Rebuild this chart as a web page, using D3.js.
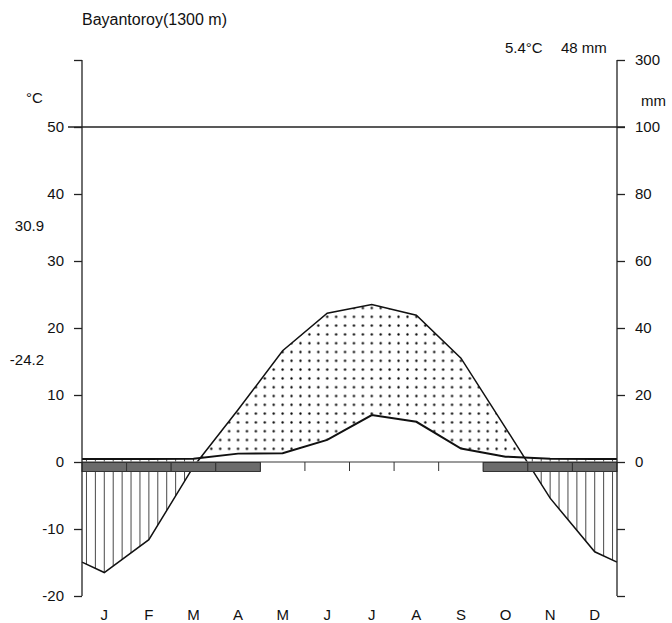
<!DOCTYPE html>
<html>
<head>
<meta charset="utf-8">
<script src="https://cdn.jsdelivr.net/npm/d3@7"></script>
<style>
  body { margin: 0; background: #fff; }
  text { font-family: "Liberation Sans", Arial, sans-serif; fill: #111; }
</style>
</head>
<body>
<svg id="chart" width="672" height="623"></svg>
<script>
// station data
var station = "Bayantoroy(1300 m)"
var meanTemp = "5.4°C"
var sumPrec = "48 mm"
var months = ["J", "F", "M", "A", "M", "J", "J", "A", "S", "O", "N", "D"]
var temp = [-16.5, -11.6, -0.7, 7.8, 16.6, 22.2, 23.5, 21.9, 15.5, 5.1, -5.4, -13.4]
var prec = [0.9, 0.9, 1.0, 2.5, 2.6, 6.6, 14, 12, 4, 1.6, 1.0, 0.9]
var frost = [1, 1, 1, 1, 0, 0, 0, 0, 0, 1, 1, 1]
var tempTicks = [-20, -10, 0, 10, 20, 30, 40, 50]
var precTicks = [0, 20, 40, 60, 80, 100, 300]
var absMax = "30.9"
var absMin = "-24.2"

var svg = d3.select("#chart")
var left = 82, right = 617

var x = d3.scaleLinear().domain([0, 12]).range([left, right])
var yT = d3.scaleLinear().domain([-20, 60]).range([596, 60])
// precipitation: 2 mm per degree up to 100 mm, compressed above
var yP = d3.scaleLinear().domain([0, 100, 300]).range([yT(0), yT(50), yT(60)])

// points at month centres plus the wrapped values at both edges
function withEdges(arr) {
    var edge = (arr[0] + arr[11]) / 2
    var pts = [[0, edge]]
    arr.forEach(function (v, i) { pts.push([i + 0.5, v]) })
    pts.push([12, edge])
    return pts
}
var tPts = withEdges(temp)
var pPts = withEdges(prec)

var defs = svg.append("defs")
var area = function (y1, y0) {
    return d3.area().x(d => x(d[0])).y1(y1).y0(y0)
}
defs.append("clipPath").attr("id", "belowT").append("path")
    .attr("d", area(d => yT(d[1]), 640)(tPts))
defs.append("clipPath").attr("id", "aboveT").append("path")
    .attr("d", area(d => yT(d[1]), 0)(tPts))
defs.append("clipPath").attr("id", "belowP").append("path")
    .attr("d", area(d => yP(d[1]), 640)(pPts))
defs.append("clipPath").attr("id", "aboveP").append("path")
    .attr("d", area(d => yP(d[1]), 0)(pPts))

var step = (right - left) / 60
var pat = defs.append("pattern").attr("id", "dots")
    .attr("patternUnits", "userSpaceOnUse")
    .attr("x", left).attr("y", yT(0))
    .attr("width", step).attr("height", 8.8)
pat.append("circle").attr("cx", step / 2).attr("cy", 4.4).attr("r", 1.15).attr("fill", "#000")

// dry period: dots between temperature and precipitation
svg.append("g").attr("clip-path", "url(#belowT)")
    .append("g").attr("clip-path", "url(#aboveP)")
    .append("rect")
    .attr("x", left).attr("y", yT(60))
    .attr("width", right - left).attr("height", yT(-20) - yT(60))
    .attr("fill", "url(#dots)")

// humid period: vertical lines
svg.append("g").attr("clip-path", "url(#belowP)")
    .append("g").attr("clip-path", "url(#aboveT)")
    .selectAll("line")
    .data(d3.range(0.1, 12, 0.2))
    .enter().append("line")
    .attr("x1", d => x(d)).attr("x2", d => x(d))
    .attr("y1", yT(60)).attr("y2", yT(-20))
    .attr("stroke", "#333").attr("stroke-width", 0.9)

// curves
svg.append("path").datum(tPts)
    .attr("d", d3.line().x(d => x(d[0])).y(d => yT(d[1])))
    .attr("fill", "none").attr("stroke", "#111").attr("stroke-width", 1.5)
svg.append("path").datum(pPts)
    .attr("d", d3.line().x(d => x(d[0])).y(d => yP(d[1])))
    .attr("fill", "none").attr("stroke", "#111").attr("stroke-width", 2)

// zero line and 50 °C / 100 mm line
svg.append("line").attr("x1", left).attr("x2", right)
    .attr("y1", yT(0)).attr("y2", yT(0))
    .attr("stroke", "#7a7a7a").attr("stroke-width", 1.6)
svg.append("line").attr("x1", 68).attr("x2", right + 8)
    .attr("y1", yT(50)).attr("y2", yT(50))
    .attr("stroke", "#222").attr("stroke-width", 1.3)

// month ticks on the zero line
svg.append("g").selectAll("line")
    .data(d3.range(1, 12))
    .enter().append("line")
    .attr("x1", d => x(d)).attr("x2", d => x(d))
    .attr("y1", yT(0)).attr("y2", yT(0) + 9)
    .attr("stroke", "#333").attr("stroke-width", 1)

// frost months
svg.append("g").selectAll("rect")
    .data(frost.map((f, i) => ({ f: f, i: i })).filter(d => d.f))
    .enter().append("rect")
    .attr("x", d => x(d.i)).attr("width", x(1) - x(0))
    .attr("y", yT(0) + 0.5).attr("height", 9)
    .attr("fill", "#6b6b6b").attr("stroke", "#333").attr("stroke-width", 1)

// axes
var axL = svg.append("g").attr("transform", "translate(" + left + ",0)")
    .call(d3.axisLeft(yT).tickValues(tempTicks.concat([60])).tickSize(8)
        .tickFormat(d => d === 60 ? "" : d))
var axR = svg.append("g").attr("transform", "translate(" + right + ",0)")
    .call(d3.axisRight(yP).tickValues(precTicks).tickSize(8))
var axR2 = svg.append("g").attr("transform", "translate(" + right + ",0)")
    .call(d3.axisRight(yT).tickValues([-10, -20]).tickSize(8).tickFormat(""))
svg.selectAll(".domain").remove()
;[axL, axR, axR2].forEach(function (a) {
    a.selectAll("line").attr("stroke", "#222").attr("stroke-width", 1.3)
    a.selectAll("text").style("font-size", "15px").attr("fill", "#111")
        .style("font-family", "Liberation Sans, Arial, sans-serif")
})
axL.selectAll("text").attr("x", -18)
axR.selectAll("text").attr("x", 18)
;[left, right].forEach(function (px) {
    svg.append("line").attr("x1", px).attr("x2", px)
        .attr("y1", yT(60)).attr("y2", yT(-20))
        .attr("stroke", "#222").attr("stroke-width", 1.3)
})

// month labels
svg.append("g").selectAll("text")
    .data(months)
    .enter().append("text")
    .attr("x", (d, i) => x(i + 0.5)).attr("y", 620)
    .attr("text-anchor", "middle").style("font-size", "15px")
    .text(d => d)

// titles and extremes
svg.append("text").attr("x", 82).attr("y", 25).style("font-size", "16px").text(station)
svg.append("text").attr("x", 505).attr("y", 53).style("font-size", "15px").text(meanTemp)
svg.append("text").attr("x", 561).attr("y", 53).style("font-size", "15px").text(sumPrec)
svg.append("text").attr("x", 26).attr("y", 103).style("font-size", "15px").text("°C")
svg.append("text").attr("x", 641).attr("y", 106).style("font-size", "15px").text("mm")
svg.append("text").attr("x", 44).attr("y", 231).attr("text-anchor", "end").style("font-size", "15px").text(absMax)
svg.append("text").attr("x", 44).attr("y", 365).attr("text-anchor", "end").style("font-size", "15px").text(absMin)
</script>
</body>
</html>
